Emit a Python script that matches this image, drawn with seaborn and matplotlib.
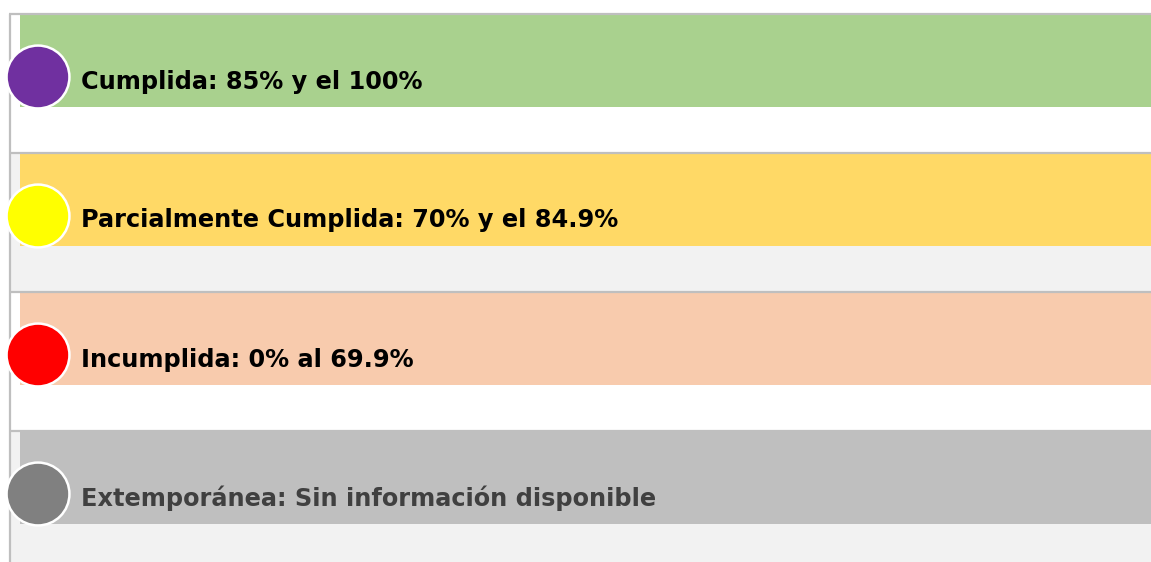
import matplotlib
matplotlib.use("Agg")
import matplotlib.pyplot as plt
import seaborn as sns
import pandas as pd

# ---- data ----
categories = ["Cumplida", "Parcialmente Cumplida", "Incumplida", "Extemporánea"]
labels = ["Cumplida: 85% y el 100%",
          "Parcialmente Cumplida: 70% y el 84.9%",
          "Incumplida: 0% al 69.9%",
          "Extemporánea: Sin información disponible"]
bar_colors = ["#a9d18e", "#ffd966", "#f8cbad", "#bfbfbf"]
dot_colors = ["#7030a0", "#ffff00", "#ff0000", "#808080"]
text_colors = ["#000000", "#000000", "#000000", "#404040"]
band_colors = ["#ffffff", "#f2f2f2", "#ffffff", "#f2f2f2"]
bar_extent = [1131, 1131, 1131, 1131]

W, H = 1151, 562
ROW = 139.0          # row pitch in px
BAR_H = 92 / ROW     # bar height in category units
top0 = -BAR_H / 2 - 1 / ROW   # row 0 top in category units

sns.set_theme(style="white")
plt.rcParams["font.family"] = ["DejaVu Sans"]

fig = plt.figure(figsize=(W / 100, H / 100), dpi=100)
ax = fig.add_axes([0, 0, 1, 1])

ymin = top0 - 14 / ROW
ymax = ymin + H / ROW

# background bands per row
for i, bc in enumerate(band_colors):
    ax.axhspan(i + top0, i + top0 + 1, xmin=(11) / W, xmax=1, color=bc, lw=0, zorder=0)

df = pd.DataFrame({"cat": categories, "val": bar_extent})
sns.barplot(data=df, x="val", y="cat", hue="cat", palette=bar_colors, orient="h",
            width=BAR_H, legend=False, ax=ax, zorder=1, saturation=1, linewidth=0)

# separators and left border
for i in range(len(categories)):
    ax.plot([-11, 1131], [i + top0, i + top0], color="#bfbfbf", lw=1.6, zorder=2,
            solid_capstyle="butt")
ax.plot([-10, -10], [top0, ymax], color="#bfbfbf", lw=1.6, zorder=2)

# circles
ys = [i + top0 + 63 / ROW for i in range(len(categories))]
dfc = pd.DataFrame({"x": [18] * len(categories), "y": ys, "cat": categories})
sns.scatterplot(data=dfc, x="x", y="y", hue="cat", palette=dot_colors, s=2050,
                edgecolor="white", linewidth=1.8, legend=False, ax=ax, zorder=3)

for i, (lab, tc) in enumerate(zip(labels, text_colors)):
    ax.text(61, i + top0 + 67.5 / ROW, lab, color=tc, fontsize=17.3, fontweight="bold",
            va="center", ha="left", zorder=4)

ax.set_xlim(-20, W - 20)
ax.set_ylim(ymax, ymin)
ax.axis("off")
fig.savefig("out.png", dpi=100)
